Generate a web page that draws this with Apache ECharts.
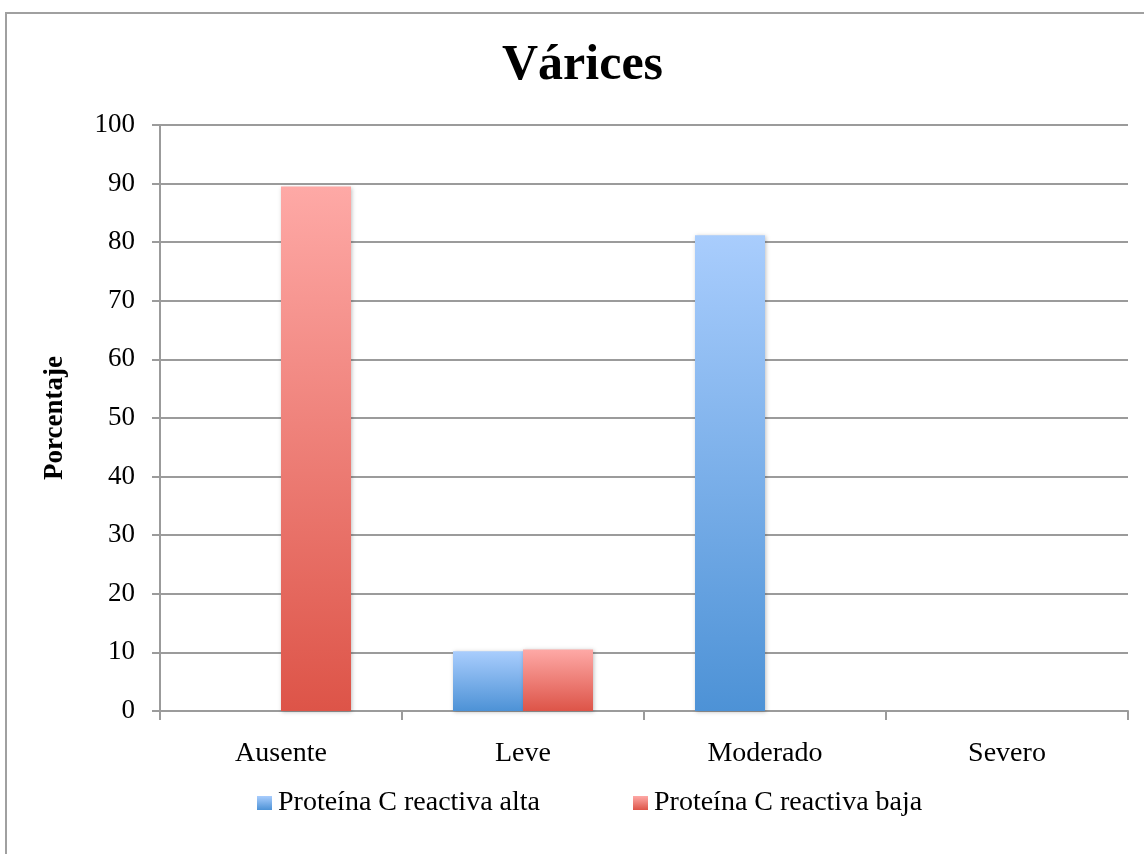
<!DOCTYPE html>
<html>
<head>
<meta charset="utf-8">
<script src="https://cdn.jsdelivr.net/npm/echarts@6/dist/echarts.min.js"></script>
<style>
html,body{margin:0;padding:0;background:#fff;}
#chart{width:1144px;height:854px;}
</style>
</head>
<body>
<div id="chart"></div>
<script>
const categories = ['Ausente', 'Leve', 'Moderado', 'Severo'];
const seriesNames = ['Proteína C reactiva alta', 'Proteína C reactiva baja'];
const altaValues = [0, 10.2, 81.2, 0];
const bajaValues = [89.5, 10.5, 0, 0];
const yTicks = [0, 10, 20, 30, 40, 50, 60, 70, 80, 90, 100];

const FONT = '"Liberation Serif", "DejaVu Serif", serif';
const gridColor = '#9b9b9b';

function grad(top, bottom) {
  return new echarts.graphic.LinearGradient(0, 0, 0, 1, [
    { offset: 0, color: top },
    { offset: 1, color: bottom }
  ]);
}

const chart = echarts.init(document.getElementById('chart'), null, { renderer: 'canvas' });
chart.setOption({
  backgroundColor: '#ffffff',
  animation: false,
  title: {
    text: 'Várices',
    left: 502,
    top: 41,
    padding: 0,
    textStyle: { fontFamily: FONT, fontSize: 50, fontWeight: 'bold', color: '#000' }
  },
  graphic: [{
    type: 'rect',
    shape: { x: 6, y: 13, width: 1150, height: 860 },
    style: { fill: 'none', stroke: '#a0a0a0', lineWidth: 2 },
    silent: true
  }],
  legend: {
    top: 789,
    left: 257,
    padding: 0,
    itemWidth: 15,
    itemHeight: 14,
    itemGap: 93,
    icon: 'rect',
    textStyle: { fontFamily: FONT, fontSize: 28, color: '#000', padding: [0, 0, 0, 1] },
    data: seriesNames
  },
  grid: { left: 160, right: 16, top: 125, bottom: 143, containLabel: false },
  xAxis: {
    type: 'category',
    data: categories,
    axisLine: { lineStyle: { color: gridColor, width: 2 } },
    axisTick: { show: true, length: 9, alignWithLabel: false, lineStyle: { color: gridColor, width: 2 } },
    axisLabel: { fontFamily: FONT, fontSize: 28, color: '#000', margin: 29 }
  },
  yAxis: {
    type: 'value',
    min: yTicks[0],
    max: yTicks[yTicks.length - 1],
    interval: 10,
    name: 'Porcentaje',
    nameLocation: 'middle',
    nameGap: 91,
    nameRotate: 90,
    nameTextStyle: { fontFamily: FONT, fontSize: 27, fontWeight: 'bold', color: '#000' },
    axisLine: { show: true, lineStyle: { color: gridColor, width: 2 } },
    axisTick: { show: true, length: 8, lineStyle: { color: gridColor, width: 2 } },
    axisLabel: { fontFamily: FONT, fontSize: 27, color: '#000', margin: 25 },
    splitLine: { show: true, lineStyle: { color: gridColor, width: 2 } }
  },
  series: [
    {
      name: seriesNames[0],
      type: 'bar',
      data: altaValues,
      barWidth: 70,
      barGap: '0%',
      itemStyle: {
        color: grad('#a9cdfd', '#4d92d6'),
        shadowColor: 'rgba(0,0,0,0.25)',
        shadowBlur: 4,
        shadowOffsetX: 1,
        shadowOffsetY: 1
      }
    },
    {
      name: seriesNames[1],
      type: 'bar',
      data: bajaValues,
      barWidth: 70,
      barGap: '0%',
      itemStyle: {
        color: grad('#fea9a6', '#dd5448'),
        shadowColor: 'rgba(0,0,0,0.25)',
        shadowBlur: 4,
        shadowOffsetX: 1,
        shadowOffsetY: 1
      }
    }
  ]
});
</script>
</body>
</html>
